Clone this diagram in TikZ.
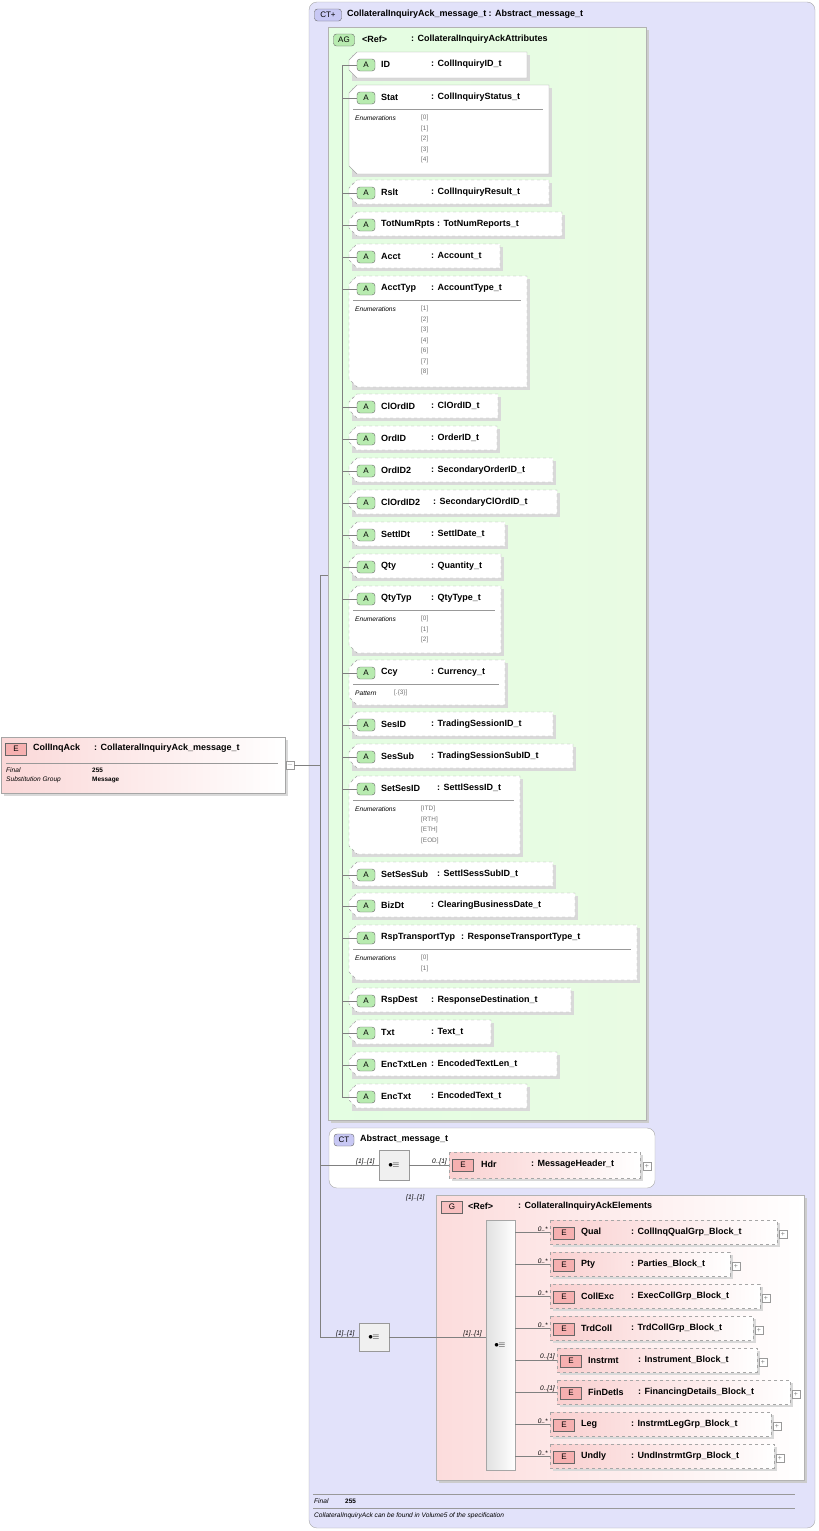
\documentclass[tikz,border=0pt]{standalone}
\usepackage{fontspec}
\setmainfont{Liberation Sans}
\usetikzlibrary{positioning, calc}

\definecolor{ctfill}{HTML}{E2E2FA}
\definecolor{agfill}{HTML}{E9FBE3}
\definecolor{gfill}{HTML}{FCDCDC}
\definecolor{badgeG}{HTML}{B8EBB0}
\definecolor{badgeR}{HTML}{F6B0B0}
\definecolor{badgeB}{HTML}{C8C8F4}

\tikzset{
  lbl/.style = {anchor = west, inner sep = 0pt, font = \fontsize{9}{10}\selectfont\bfseries},
  small/.style = {anchor = west, inner sep = 0pt, font = \fontsize{6.6}{7}\selectfont\itshape},
  enum/.style = {anchor = west, inner sep = 0pt, text = black!55, font = \fontsize{6.4}{7}\selectfont},
  bold/.style = {anchor = west, inner sep = 0pt, font = \fontsize{6.4}{7}\selectfont\bfseries},
  tree/.style = {draw = black!50, line width = 0.5pt},
  abadge/.style = {draw = black!60, fill = badgeG, rounded corners = 3pt, minimum width = 18pt,
      minimum height = 12pt, inner sep = 0pt, font = \fontsize{8}{8}\selectfont},
  ebadge/.style = {draw = black!60, fill = badgeR, minimum width = 21pt,
      minimum height = 12pt, inner sep = 0pt, font = \fontsize{8}{8}\selectfont},
  bbadge/.style = {draw = black!60, fill = badgeB, rounded corners = 3pt, minimum width = 20pt,
      minimum height = 12pt, inner sep = 0pt, font = \fontsize{8}{8}\selectfont},
  plus/.style = {draw = black!40, fill = white, minimum size = 8pt, inner sep = 0pt,
      font = \fontsize{7}{7}\selectfont, text = black!50},
  seq/.style = {draw = black!40, fill = black!6},
}

% attribute: top, bottom, right, name, type, type x, dash
\newcommand\attr[7]{
  \fill[black!15] (352,#1+3) -- (#3+3,#1+3) -- (#3+3,#2+3) -- (352,#2+3) -- cycle;
  \filldraw[draw = black!35, fill = white, #7] (357,#1) -- (#3,#1) -- (#3,#2) -- (357,#2)
    -- (349,#2-8) -- (349,#1+8) -- cycle;
  \node[abadge] (b#4) at (366,#1+13) {A};
  \node[lbl] (#4) at (381,#1+12) {#4};
  \node[lbl] at (#6,#1+12) {: #5};
  \coordinate (t#4) at (342,#1+13);
  \draw[tree] (t#4) -- (b#4.west);
}
% enumerations: top, right, title, list
\newcommand\enums[4]{
  \draw[black!40] (353,#1+24) -- (#2-6,#1+24);
  \node[small] at (355,#1+33) {#3};
  \foreach \v [count = \i] in {#4}
    \node[enum] at (421,#1+22.5+\i*10.5) {\v};
}
% element: top, left, right, name, type, multiplicity
\newcommand\elem[6]{
  \fill[black!15] (#2+3,#1+3) rectangle (#3+3,#1+27);
  \shade[left color = badgeR!60, right color = white] (#2,#1) rectangle (#3,#1+24);
  \draw[black!35, dashed] (#2,#1) rectangle (#3,#1+24);
  \node[ebadge] (b#4) at (#2+14,#1+13) {E};
  \node[lbl] (#4) at (#2+31,#1+12) {#4};
  \node[lbl] at (#2+81,#1+12) {: #5};
  \node[plus] at (#3+6,#1+14) {+};
  \coordinate (e#4) at (#2,#1+12);
  \draw[tree] (seqG.east |- e#4) -- (e#4)
    node[small, anchor = south east, pos = 1, xshift = -2pt] {#6};
}

\begin{document}
\begin{tikzpicture}[x = 1pt, y = -1pt]
\useasboundingbox (0,0) rectangle (819,1531);

% outer complex type
\filldraw[draw = black!35, fill = ctfill, rounded corners = 8pt] (309,2) rectangle (815,1528);
\node[bbadge, minimum width = 27pt] (ctB) at (328,15) {CT+};
\node[lbl] (ctT) at (347,14) {CollateralInquiryAck\_message\_t : Abstract\_message\_t};

% attribute group
\fill[black!20] (331,30) rectangle (649,1123);
\shade[left color = agfill!80!green!40, right color = agfill] (328,27) rectangle (646,1120);
\draw[black!30] (328,27) rectangle (646,1120);
\node[abadge, minimum width = 21pt] (agB) at (344,40) {AG};
\node[lbl] (agT) at (362,39) {<Ref>};
\node[lbl] at (411,39) {: CollateralInquiryAckAttributes};
\draw[tree] (342,65) -- (342,1097);

\attr{52}{78}{527}{ID}{CollInquiryID\_t}{431}{solid}
\attr{85}{174}{549}{Stat}{CollInquiryStatus\_t}{431}{solid}
\enums{85}{549}{Enumerations}{[0],[1],[2],[3],[4]}
\attr{180}{204}{549}{Rslt}{CollInquiryResult\_t}{431}{dashed}
\attr{212}{236}{562}{TotNumRpts}{TotNumReports\_t}{437}{dashed}
\attr{244}{268}{500}{Acct}{Account\_t}{431}{dashed}
\attr{276}{387}{527}{AcctTyp}{AccountType\_t}{431}{dashed}
\enums{276}{527}{Enumerations}{[1],[2],[3],[4],[6],[7],[8]}
\attr{394}{418}{498}{ClOrdID}{ClOrdID\_t}{431}{dashed}
\attr{426}{450}{497}{OrdID}{OrderID\_t}{431}{dashed}
\attr{458}{482}{553}{OrdID2}{SecondaryOrderID\_t}{431}{dashed}
\attr{490}{514}{557}{ClOrdID2}{SecondaryClOrdID\_t}{433}{dashed}
\attr{522}{546}{505}{SettlDt}{SettlDate\_t}{431}{dashed}
\attr{554}{578}{501}{Qty}{Quantity\_t}{431}{dashed}
\attr{586}{653}{501}{QtyTyp}{QtyType\_t}{431}{dashed}
\enums{586}{501}{Enumerations}{[0],[1],[2]}
\attr{660}{705}{505}{Ccy}{Currency\_t}{431}{dashed}
\enums{660}{505}{Pattern}{}
\node[enum] at (394,693) {[.\{3\}]};
\attr{712}{736}{553}{SesID}{TradingSessionID\_t}{431}{dashed}
\attr{744}{768}{573}{SesSub}{TradingSessionSubID\_t}{431}{dashed}
\attr{776}{854}{520}{SetSesID}{SettlSessID\_t}{437}{dashed}
\enums{776}{520}{Enumerations}{[ITD],[RTH],[ETH],[EOD]}
\attr{862}{886}{553}{SetSesSub}{SettlSessSubID\_t}{437}{dashed}
\attr{893}{917}{575}{BizDt}{ClearingBusinessDate\_t}{431}{dashed}
\attr{925}{980}{637}{RspTransportTyp}{ResponseTransportType\_t}{461}{dashed}
\enums{925}{637}{Enumerations}{[0],[1]}
\attr{988}{1012}{571}{RspDest}{ResponseDestination\_t}{431}{dashed}
\attr{1020}{1044}{491}{Txt}{Text\_t}{431}{dashed}
\attr{1052}{1076}{557}{EncTxtLen}{EncodedTextLen\_t}{431}{dashed}
\attr{1084}{1108}{527}{EncTxt}{EncodedText\_t}{431}{dashed}

% abstract base type
\filldraw[draw = black!35, fill = white, rounded corners = 8pt] (329,1128) rectangle (655,1188);
\node[bbadge] (abB) at (344,1140) {CT};
\node[lbl] (abT) at (360,1139) {Abstract\_message\_t};
\node[seq, minimum width = 30pt, minimum height = 30pt] (seqA) at (394,1165) {};
\node[font = \small] at (seqA) {$\bullet\!\!\equiv$};
\fill[black!15] (452,1155) rectangle (643,1181);
\shade[left color = badgeR!60, right color = white] (449,1152) rectangle (640,1178);
\draw[black!35, dashed] (449,1152) rectangle (640,1178);
\node[ebadge] (bHdr) at (463,1165) {E};
\node[lbl] (Hdr) at (481,1164) {Hdr};
\node[lbl] at (531,1164) {: MessageHeader\_t};
\node[plus] at (647,1166) {+};
\coordinate (eHdr) at (449,1165);
\draw[tree] (seqA.east) -- (eHdr) node[small, anchor = south east, pos = 1, xshift = -2pt] {0..[1]};

% element group
\fill[black!20] (439,1198) rectangle (807,1483);
\shade[left color = gfill, right color = white] (436,1195) rectangle (804,1480);
\draw[black!30] (436,1195) rectangle (804,1480);
\node[ebadge, fill = badgeR!80] (gB) at (452,1207) {G};
\node[lbl] (gT) at (468,1206) {<Ref>};
\node[lbl] at (518,1206) {: CollateralInquiryAckElements};
\node[small] at (406,1198) {[1]..[1]};
\shade[left color = black!12, right color = white] (486,1220) rectangle (515,1470);
\draw[black!35] (486,1220) rectangle (515,1470);
\coordinate (seqG) at (515,1345);
\node[font = \small] at (500,1345) {$\bullet\!\!\equiv$};

\elem{1220}{550}{777}{Qual}{CollInqQualGrp\_Block\_t}{0..*}
\elem{1252}{550}{730}{Pty}{Parties\_Block\_t}{0..*}
\elem{1284}{550}{760}{CollExc}{ExecCollGrp\_Block\_t}{0..*}
\elem{1316}{550}{753}{TrdColl}{TrdCollGrp\_Block\_t}{0..*}
\elem{1348}{557}{757}{Instrmt}{Instrument\_Block\_t}{0..[1]}
\elem{1380}{557}{790}{FinDetls}{FinancingDetails\_Block\_t}{0..[1]}
\elem{1412}{550}{771}{Leg}{InstrmtLegGrp\_Block\_t}{0..*}
\elem{1444}{550}{774}{Undly}{UndInstrmtGrp\_Block\_t}{0..*}

% outer sequence
\node[seq, minimum width = 30pt, minimum height = 28pt] (seqO) at (374,1337) {};
\node[font = \small] at (seqO) {$\bullet\!\!\equiv$};
\draw[tree] (seqO.east) -- (486,1337) node[small, anchor = south east, pos = 1, xshift = -4pt] {[1]..[1]};

% root element
\fill[black!15] (4,740) rectangle (288,796);
\shade[left color = badgeR!50, right color = white] (1,737) rectangle (285,793);
\draw[black!35] (1,737) rectangle (285,793);
\node[ebadge] (rootB) at (16,749) {E};
\node[lbl] (root) at (33,748) {CollInqAck};
\node[lbl] at (94,748) {: CollateralInquiryAck\_message\_t};
\draw[black!40] (6,763) -- (278,763);
\node[small] at (6,770) {Final};
\node[small] at (6,780) {Substitution Group};
\node[bold] at (92,770) {255};
\node[bold] at (92,780) {Message};
\node[plus] (rootM) at (290,765) {$-$};

% content model connectors
\coordinate (spine) at (320,765);
\draw[tree] (rootM.east) -- (spine);
\draw[tree] (320,575) -- (320,1337);
\draw[tree] (320,575) -- (328,575);
\draw[tree] (seqA.west -| spine) -- (seqA.west) node[small, anchor = south east, pos = 1, xshift = -4pt] {[1]..[1]};
\draw[tree] (seqO.west -| spine) -- (seqO.west) node[small, anchor = south east, pos = 1, xshift = -4pt] {[1]..[1]};

% footer
\draw[black!40] (313,1494) -- (795,1494);
\draw[black!40] (313,1508) -- (795,1508);
\node[small] at (314,1501) {Final};
\node[bold] at (345,1501) {255};
\node[small] at (314,1516) {CollateralInquiryAck can be found in Volume5 of the specification};
\end{tikzpicture}
\end{document}
